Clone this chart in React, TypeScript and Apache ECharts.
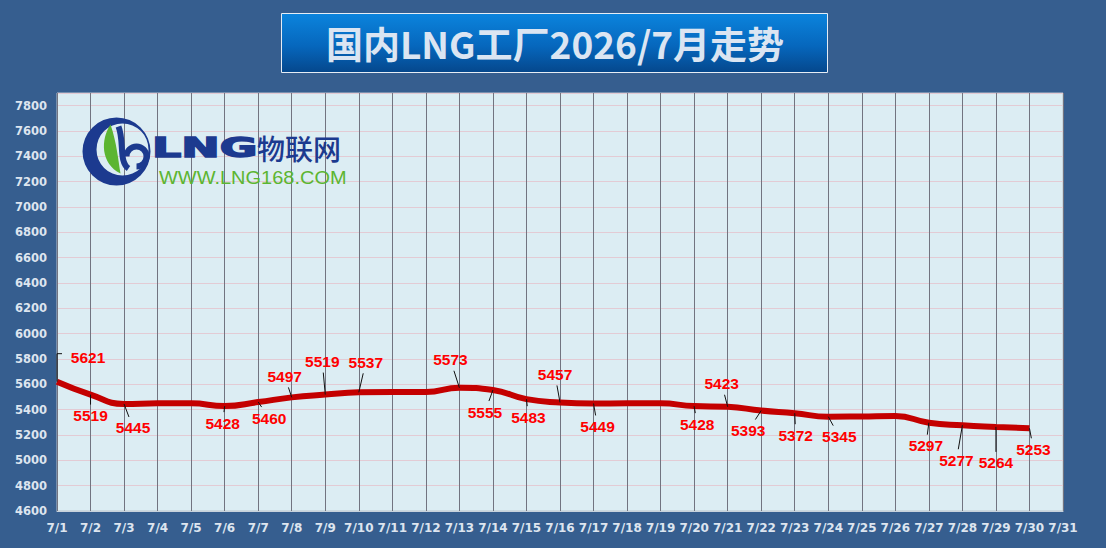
import React, { useEffect, useRef } from "react";
import * as echarts from "echarts";

const days = [
  "7/1", "7/2", "7/3", "7/4", "7/5", "7/6", "7/7", "7/8", "7/9", "7/10",
  "7/11", "7/12", "7/13", "7/14", "7/15", "7/16", "7/17", "7/18", "7/19", "7/20",
  "7/21", "7/22", "7/23", "7/24", "7/25", "7/26", "7/27", "7/28", "7/29", "7/30", "7/31",
];

const prices = [
  5621, 5519, 5445, 5450, 5450, 5428, 5460, 5497, 5519, 5537,
  5540, 5540, 5573, 5555, 5483, 5457, 5449, 5450, 5450, 5428,
  5423, 5393, 5372, 5345, 5347, 5350, 5297, 5277, 5264, 5253,
];

// label offsets (dx, dy) from the point, null = no label
const labelOffsets: ([number, number] | null)[] = [
  [31, -24], [0, 21], [9, 24], null, null, [-2, 17], [11, 16], [-7, -21], [-3, -33], [7, -30],
  null, null, [-9, -28], [-8, 22], [2, 18], [-5, -28], [4, 23], null, null, [3, 18],
  [-6, -23], [-13, 20], [1, 22], [11, 20], null, null, [-3, 23], [-6, 35], [0, 36], [4, 21],
];

const TITLE = "国内LNG工厂2026/7月走势";

const crescentPath =
  "M -34 0 A 34 34 0 1 1 34 0 A 34 34 0 1 1 -34 0 Z M -20 -2 A 26 26 0 1 0 32 -2 A 26 26 0 1 0 -20 -2 Z";
const leafPath = "M -6 -27 C -16 -12 -16 12 4 22 C 2 10 0 -10 -6 -27 Z";

let registered = false;
function registerShapes() {
  if (registered) return;
  registered = true;
  echarts.graphic.registerShape("logoCrescent", echarts.graphic.extendPath(crescentPath, {}));
  echarts.graphic.registerShape("logoLeaf", echarts.graphic.extendPath(leafPath, {}));
}

const NAVY = "#1c3a8f";
const GREEN = "#5cb531";

export default function App() {
  const ref = useRef<HTMLDivElement>(null);

  useEffect(() => {
    if (!ref.current) return;
    registerShapes();
    const chart = echarts.init(ref.current, undefined, { renderer: "svg" });

    const labelData = prices
      .map((v, i) => (labelOffsets[i] ? [i, v] : null))
      .filter((d) => d !== null);

    const cx0 = 116.5;
    const cy0 = 151.5;

    const option: any = {
      animation: false,
      backgroundColor: "#365e8f",
      grid: {
        left: 57,
        right: 43,
        top: 93,
        bottom: 37,
        show: true,
        backgroundColor: "#dcedf3",
        borderColor: "#b8c2cc",
        borderWidth: 1,
      },
      xAxis: {
        type: "category",
        data: days,
        boundaryGap: false,
        axisLine: { show: true, lineStyle: { color: "#c8d2dc", width: 1 } },
        axisTick: { show: false },
        axisLabel: {
          color: "#dde5ef",
          fontFamily: "DejaVu Sans",
          fontWeight: "bold",
          fontSize: 12,
          margin: 11,
          interval: 0,
        },
        splitLine: { show: true, lineStyle: { color: "#727480", width: 1 } },
      },
      yAxis: {
        type: "value",
        min: 4600,
        max: 7900,
        interval: 200,
        axisLine: { show: false },
        axisTick: { show: false },
        axisLabel: {
          color: "#dde5ef",
          fontFamily: "DejaVu Sans",
          fontWeight: "bold",
          fontSize: 11.5,
          margin: 10,
          showMaxLabel: false,
          formatter: (v: number) => String(v),
        },
        splitLine: { show: true, lineStyle: { color: "#e3cbd4", width: 1 } },
      },
      graphic: [
        {
          type: "rect",
          shape: { x: 281.5, y: 13.5, width: 546, height: 59 },
          style: {
            fill: new echarts.graphic.LinearGradient(0, 0, 0, 1, [
              { offset: 0, color: "#0b84dd" },
              { offset: 0.55, color: "#0667bd" },
              { offset: 1, color: "#05478c" },
            ]),
            stroke: "#e6edf5",
            lineWidth: 1,
          },
          z: 10,
        },
        {
          type: "text",
          x: 555,
          y: 43,
          style: {
            text: TITLE,
            font: 'bold 37px "Noto Sans CJK SC"',
            align: "center",
            verticalAlign: "middle",
            textAlign: "center",
            textVerticalAlign: "middle",
            fill: "#dbe5f2",
          },
          z: 11,
        },
        // logo
        {
          type: "logoCrescent",
          x: cx0,
          y: cy0,
          style: { fill: NAVY },
          z: 5,
        },
        {
          type: "bezierCurve",
          shape: {
            x1: cx0 + 2, y1: cy0 - 25,
            cpx1: cx0 + 8, cpy1: cy0 - 10,
            cpx2: cx0 + 2, cpy2: cy0 + 10,
            x2: cx0 + 12, y2: cy0 + 17,
          },
          style: { stroke: NAVY, lineWidth: 6, fill: "none" },
          z: 5,
        },
        {
          type: "arc",
          shape: { cx: cx0 + 20, cy: cy0 + 5, r: 10, startAngle: -Math.PI, endAngle: Math.PI / 2, clockwise: true },
          style: { stroke: NAVY, lineWidth: 6, fill: "none" },
          z: 5,
        },
        {
          type: "logoLeaf",
          x: cx0,
          y: cy0,
          style: { fill: GREEN },
          z: 6,
        },
        {
          type: "text",
          x: 152,
          y: 148,
          scaleX: 1.7,
          style: {
            text: "LNG",
            font: 'bold 27px "DejaVu Sans"',
            align: "left",
            verticalAlign: "middle",
            textAlign: "left",
            textVerticalAlign: "middle",
            fill: NAVY,
            stroke: NAVY,
            lineWidth: 1.5,
          },
          z: 5,
        },
        {
          type: "text",
          x: 257,
          y: 148,
          style: {
            text: "物联网",
            font: '500 28px "Noto Sans CJK SC"',
            align: "left",
            verticalAlign: "middle",
            textAlign: "left",
            textVerticalAlign: "middle",
            fill: NAVY,
          },
          z: 5,
        },
        {
          type: "text",
          x: 159,
          y: 178,
          scaleX: 1.08,
          style: {
            text: "WWW.LNG168.COM",
            font: '18.5px "Liberation Sans"',
            align: "left",
            verticalAlign: "middle",
            textAlign: "left",
            textVerticalAlign: "middle",
            fill: GREEN,
          },
          z: 5,
        },
      ],
      series: [
        {
          type: "line",
          data: prices,
          smooth: true,
          symbol: "none",
          lineStyle: { color: "#c40000", width: 6 },
          z: 3,
        },
        {
          type: "custom",
          data: labelData,
          z: 4,
          renderItem: (params: any, api: any) => {
            const idx = api.value(0);
            const val = api.value(1);
            const off = labelOffsets[idx];
            if (!off) return null;
            const p = api.coord([idx, val]);
            const cx = p[0] + off[0];
            const cy = p[1] + off[1];
            const hw = 19 + 3;
            const hh = 8 + 3;
            const dx = cx - p[0];
            const dy = cy - p[1];
            const sx = dx === 0 ? Infinity : hw / Math.abs(dx);
            const sy = dy === 0 ? Infinity : hh / Math.abs(dy);
            const s = Math.min(sx, sy, 1);
            const ex = cx - s * dx;
            const ey = cy - s * dy;
            const leader =
              idx === 0
                ? {
                    type: "polyline",
                    shape: { points: [[p[0], p[1]], [p[0], cy - 4], [p[0] + 5, cy - 4]] },
                    style: { stroke: "#111", lineWidth: 1, fill: "none" },
                  }
                : {
                    type: "line",
                    shape: { x1: p[0], y1: p[1], x2: ex, y2: ey },
                    style: { stroke: "#111", lineWidth: 1 },
                  };
            return {
              type: "group",
              children: [
                leader,
                {
                  type: "text",
                  x: cx,
                  y: cy,
                  style: {
                    text: String(val),
                    font: 'bold 15.5px "Liberation Sans"',
                    fill: "#ff0000",
                    align: "center",
                    verticalAlign: "middle",
                    textAlign: "center",
                    textVerticalAlign: "middle",
                  },
                },
              ],
            };
          },
        },
      ],
    };

    chart.setOption(option);
    return () => chart.dispose();
  }, []);

  return (
    <div
      ref={ref}
      style={{ position: "fixed", left: 0, top: 0, width: 1106, height: 548 }}
    />
  );
}
